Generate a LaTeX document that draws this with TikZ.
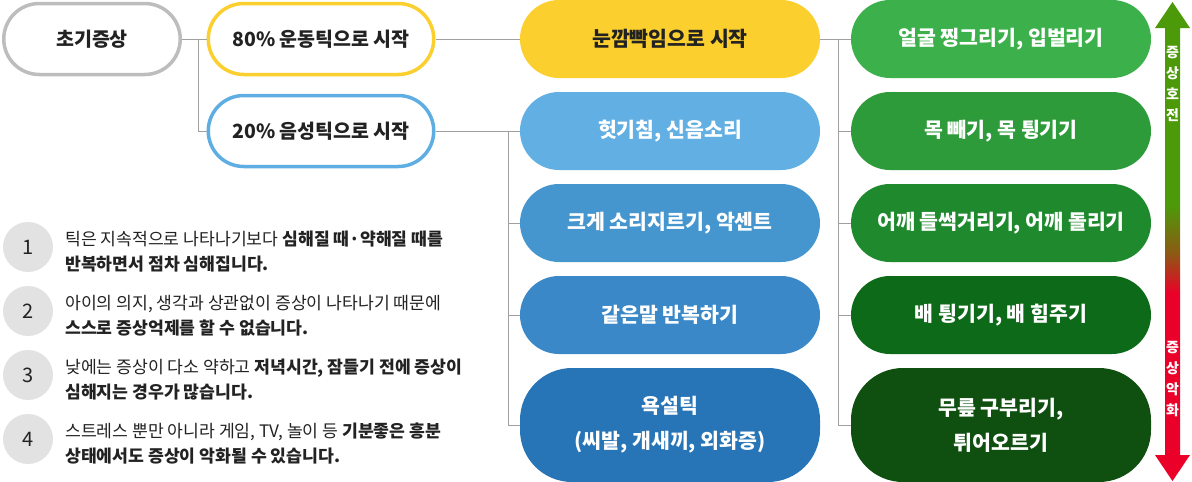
\documentclass[tikz,border=0pt]{standalone}
\usepackage{fontspec}
\setmainfont{Noto Sans CJK KR}
\definecolor{linkgray}{HTML}{A0A0A0}
\definecolor{ringgray}{HTML}{BDBDBD}
\definecolor{motoryel}{HTML}{FBCF2E}
\definecolor{vocalblue}{HTML}{5FAEE3}
\definecolor{blueA}{HTML}{62AFE3}
\definecolor{blueB}{HTML}{4596CF}
\definecolor{blueC}{HTML}{3A88C7}
\definecolor{blueD}{HTML}{2775B7}
\definecolor{greenA}{HTML}{3CB04B}
\definecolor{greenB}{HTML}{2D9B3A}
\definecolor{greenC}{HTML}{1F8A2D}
\definecolor{greenD}{HTML}{0D6A18}
\definecolor{greenE}{HTML}{0F4F10}
\definecolor{textdark}{HTML}{222222}
\definecolor{dotgray}{HTML}{E2E2E2}
\definecolor{trendgreen}{HTML}{4C9A0A}
\definecolor{trendbrown}{HTML}{8C5A14}
\definecolor{trendred}{HTML}{EB0029}
\pgfdeclareverticalshading{tictrend}{100bp}{color(0bp)=(trendred); color(44.6bp)=(trendred); color(48.8bp)=(trendbrown); color(53.8bp)=(trendgreen); color(100bp)=(trendgreen)}

\begin{document}
\begin{tikzpicture}[x=1pt,y=-1pt,
    link/.style={draw=linkgray, line width=1pt},
    pill/.style={rectangle, rounded corners=39pt, minimum width=300pt, minimum height=78pt,
      inner sep=0pt, align=center, text=white, font=\fontsize{20.5}{35}\selectfont\bfseries},
    tallpill/.style={pill, minimum height=114pt, rounded corners=52pt},
    ring/.style={pill, draw=#1, line width=3.5pt, fill=white, text=textdark,
      minimum width=225.5pt, minimum height=71pt, rounded corners=35.5pt,
      font=\fontsize{19.5}{24}\selectfont\bfseries},
    numdot/.style={circle, fill=dotgray, minimum size=50pt, inner sep=0pt, text=textdark,
      font=\fontsize{20}{20}\selectfont},
    note/.style={anchor=west, align=left, inner sep=0pt, text=textdark, font=\fontsize{17.2}{25}\selectfont},
    trendtext/.style={text=white, align=center, inner sep=0pt, font=\fontsize{14}{21}\selectfont\bfseries}]
  \useasboundingbox (0,0) rectangle (1192,482);

  \node[ring=ringgray, minimum width=176.5pt] (sym) at (92,39) {초기증상};
  \node[ring=motoryel] (motor) at (321,39) {80\% 운동틱으로 시작};
  \node[ring=vocalblue] (vocal) at (321,131) {20\% 음성틱으로 시작};

  \node[pill, fill=motoryel, text=textdark] (blink) at (670,39) {눈깜빡임으로 시작};
  \node[pill, fill=blueA] (cough) at (670,131) {헛기침, 신음소리};
  \node[pill, fill=blueB] (shout) at (670,223) {크게 소리지르기, 악센트};
  \node[pill, fill=blueC] (repeat) at (670,315) {같은말 반복하기};
  \node[tallpill, fill=blueD] (swear) at (670,425) {욕설틱\\(씨발, 개새끼, 외화증)};

  \node[pill, fill=greenA] (face) at (1001,39) {얼굴 찡그리기, 입벌리기};
  \node[pill, fill=greenB] (neck) at (1001,131) {목 빼기, 목 튕기기};
  \node[pill, fill=greenC] (shoulder) at (1001,223) {어깨 들썩거리기, 어깨 돌리기};
  \node[pill, fill=greenD] (belly) at (1001,315) {배 튕기기, 배 힘주기};
  \node[tallpill, fill=greenE] (knee) at (1001,425) {무릎 구부리기,\\튀어오르기};

  \draw[link] (sym.east) -- (motor.west);
  \draw[link] (sym.east) -- ++(16,0) |- (vocal.west);
  \draw[link] (motor.east) -- (blink.west);
  \draw[link] (vocal.east) -- (cough.west);
  \foreach \n in {shout,repeat,swear}
    \draw[link] (vocal.east) -- ++(73,0) |- (\n.west);
  \draw[link] (blink.east) -- (face.west);
  \foreach \n in {neck,shoulder,belly,knee}
    \draw[link] (blink.east) -- ++(18,0) |- (\n.west);

  \shade[shading=tictrend] (1172.5,2) -- (1190,28) -- (1180,28) -- (1180,455) -- (1190,455)
    -- (1172.5,481) -- (1155,455) -- (1165,455) -- (1165,28) -- (1155,28) -- cycle;
  \node[trendtext] (better) at (1172.5,84) {증\\상\\호\\전};
  \node[trendtext] (worse) at (1172.5,379) {증\\상\\악\\화};

  \node[numdot] (n1) at (28,247) {1};
  \node[numdot] (n2) at (28,311) {2};
  \node[numdot] (n3) at (28,375) {3};
  \node[numdot] (n4) at (28,439) {4};
  \node[note] (t1) at (65,251.5) {틱은 지속적으로 나타나기보다 \textbf{심해질 때·약해질 때를}\\\textbf{반복하면서 점차 심해집니다.}};
  \node[note] (t2) at (65,315.5) {아이의 의지, 생각과 상관없이 증상이 나타나기 때문에\\\textbf{스스로 증상억제를 할 수 없습니다.}};
  \node[note] (t3) at (65,379.5) {낮에는 증상이 다소 약하고 \textbf{저녁시간, 잠들기 전에 증상이}\\\textbf{심해지는 경우가 많습니다.}};
  \node[note] (t4) at (65,443.5) {스트레스 뿐만 아니라 게임, TV, 놀이 등 \textbf{기분좋은 흥분}\\\textbf{상태에서도 증상이 악화될 수 있습니다.}};
\end{tikzpicture}
\end{document}
